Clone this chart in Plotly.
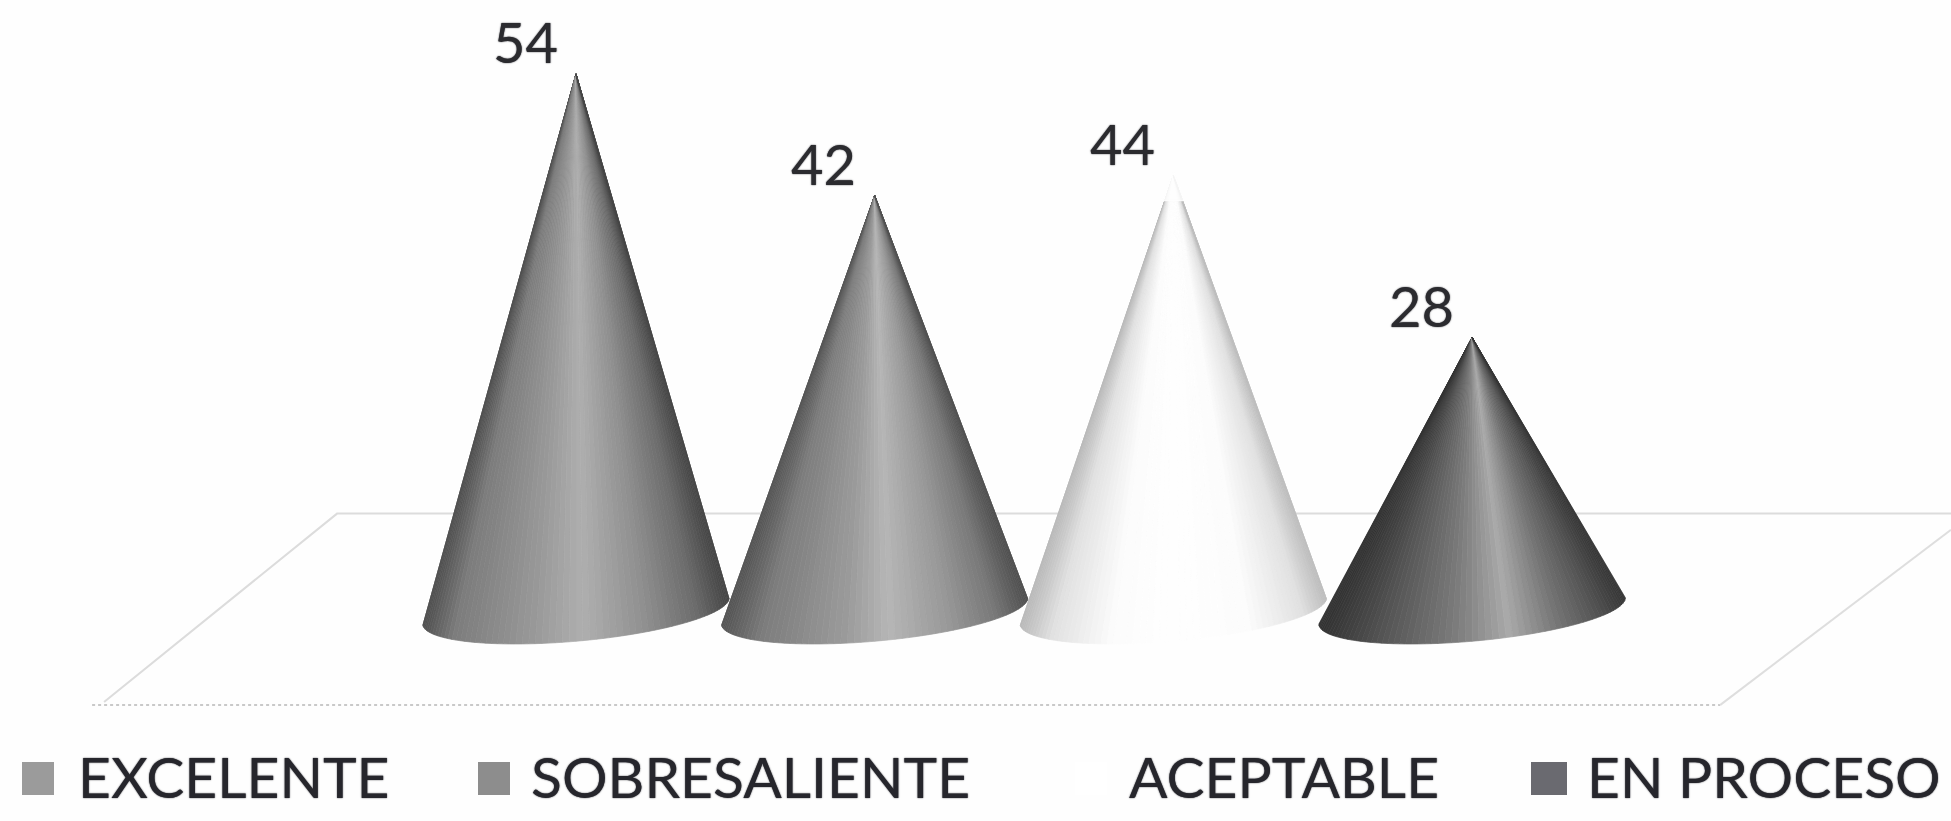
import plotly.graph_objects as go
import numpy as np

categories = ["EXCELENTE", "SOBRESALIENTE", "ACEPTABLE", "EN PROCESO"]
values = [54, 42, 44, 28]

# shading stops across each cone: (position -1..1, grey level)
shades = [
    [(-1, 80), (-.8, 125), (-.3, 152), (.05, 175), (.45, 145), (.8, 108), (1, 70)],
    [(-1, 85), (-.75, 125), (-.2, 155), (.1, 182), (.5, 152), (.8, 120), (1, 80)],
    [(-1, 185), (-.8, 225), (-.4, 252), (0, 255), (.5, 252), (.85, 225), (1, 190)],
    [(-1, 50), (-.6, 85), (-.1, 125), (.25, 170), (.55, 120), (.85, 80), (1, 55)],
]
faded_tip_from = [None, None, 41.5, None]

W, H = 1951, 821
PX_PER_CAT = 298.7
PX_PER_VAL = 10.13
X0, Y0 = 576, 621
x_range = [-X0 / PX_PER_CAT, (W - X0) / PX_PER_CAT]
y_range = [(Y0 - H) / PX_PER_VAL, Y0 / PX_PER_VAL]
HALF = 0.513
RY, TILT, BASE = 3.0, 1.3, 1.0

fig = go.Figure()

# floor of the 3D plot
floor = [
    ([-1.58, -0.80, x_range[1]], [-8.0, 10.6, 10.6], "#dcdcdc", 2, "solid"),
    ([-1.62, 3.83], [-8.3, -8.3], "#c9c9c9", 2, "dot"),
    ([3.83, x_range[1]], [-8.3, 9.0], "#dedede", 2, "solid"),
]
for fx, fy, col, wd, dash in floor:
    fig.add_trace(go.Scatter(x=fx, y=fy, mode="lines", hoverinfo="skip", showlegend=False,
                             line=dict(color=col, width=wd, dash=dash)))

TEXT_SHADOW = "0 0 1.5px #26262c"
N = 70
for i, (cat, v, stops, fade) in enumerate(zip(categories, values, shades, faded_tip_from)):
    pos = [s[0] for s in stops]
    grey = [s[1] for s in stops]
    th = np.linspace(np.pi, 2 * np.pi, N + 1)
    bx = i + HALF * np.cos(th)
    by = BASE + RY * np.sin(th) + TILT * np.cos(th)
    for k in range(N):
        g = int(np.interp((np.cos(th[k]) + np.cos(th[k + 1])) / 2, pos, grey))
        col = f"rgb({g},{g},{g})"
        fig.add_trace(go.Scatter(
            x=[i, bx[k], bx[k + 1], i], y=[v, by[k], by[k + 1], v],
            mode="lines", fill="toself", fillcolor=col,
            line=dict(color=col, width=0.7), hoverinfo="skip", showlegend=False))
    if fade is not None:
        half_at_fade = HALF * (v - fade) / (v - BASE) + 0.01
        fig.add_trace(go.Scatter(
            x=[i, i - half_at_fade, i + half_at_fade, i], y=[v + 0.3, fade, fade, v + 0.3],
            mode="lines", fill="toself", fillcolor="rgba(254,254,254,0.85)",
            line=dict(color="rgba(254,254,254,0.85)", width=1.5), hoverinfo="skip", showlegend=False))
    # data label
    fig.add_annotation(x=i, y=v, xref="x", yref="y", text=str(v), showarrow=False,
                       xshift=-51, yshift=32,
                       font=dict(family="Lato", size=56, color="#2b2b2f", shadow=TEXT_SHADOW))

# legend row
legend_text_x = [76, 529, 1127, 1585]
legend_swatch = [(22, 54, "#9b9b9b"), (478, 510, "#8d8d8d"), (1075, 1107, "#ffffff"), (1531, 1567, "#6a6a70")]
for cat, tx, (s0, s1, col) in zip(categories, legend_text_x, legend_swatch):
    fig.add_annotation(x=tx / W, y=1 - 776 / H, xref="paper", yref="paper", xanchor="left", yanchor="middle",
                       text=cat, showarrow=False,
                       font=dict(family="Lato", size=57, color="#26262c", shadow=TEXT_SHADOW))
    fig.add_shape(type="rect", xref="paper", yref="paper", x0=s0 / W, x1=s1 / W,
                  y0=1 - 795 / H, y1=1 - 762 / H, fillcolor=col, line=dict(width=0))

fig.update_layout(
    width=W, height=H, margin=dict(l=0, r=0, t=0, b=0),
    paper_bgcolor="#fefefe", plot_bgcolor="#fefefe", showlegend=False,
    xaxis=dict(range=x_range, visible=False, fixedrange=True),
    yaxis=dict(range=y_range, visible=False, fixedrange=True),
)
fig.write_html("out.html", config={"displayModeBar": False},
               post_script="document.body.style.margin='0';document.body.style.overflow='hidden';")
